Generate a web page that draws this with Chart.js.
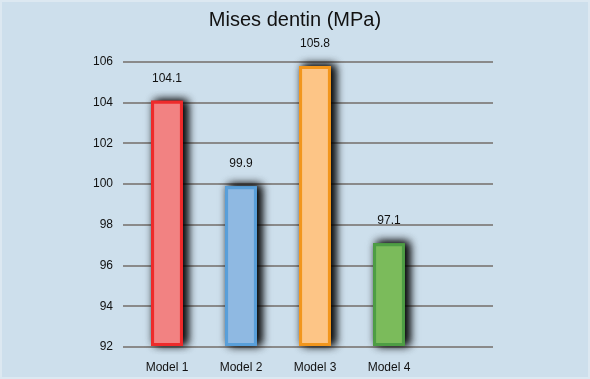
<!DOCTYPE html>
<html>
<head>
<meta charset="utf-8">
<script src="https://cdn.jsdelivr.net/npm/chart.js@4"></script>
<style>
  html, body { margin: 0; padding: 0; background: #cddfec; }
  #wrap {
    position: relative;
    width: 590px;
    height: 379px;
    background: #cddfec;
    box-shadow: inset 0 0 0 2px #dce8f1;
  }
  #chart { position: absolute; left: 0; top: 0; }
</style>
</head>
<body>
<div id="wrap"><canvas id="chart" width="590" height="379"></canvas></div>
<script>
// values
const models = ['Model 1', 'Model 2', 'Model 3', 'Model 4'];
const misesDentin = [104.1, 99.9, 105.8, 97.1];
const fillColors = ['#f28282', '#8fb9e2', '#fdc586', '#7bbb5b'];
const edgeColors = ['#ee2b2b', '#599fd9', '#f2961d', '#4e9d44'];
const yMin = 92;
const yMax = 106;
const yStep = 2;

const bgColor = '#cddfec';
const textColor = '#111111';

// the original leaves one empty slot after Model 4
const slotLabels = [...models, ''];

// cover the bit of grid that runs past the last line end, then drop shadows
const barShadow = {
    id: 'barShadow',
    beforeDatasetsDraw(chart) {
        const ctx = chart.ctx;
        const area = chart.chartArea;
        ctx.save();
        ctx.fillStyle = bgColor;
        ctx.fillRect(area.right - 7, area.top - 3, 10, area.bottom - area.top + 6);

        ctx.shadowColor = 'rgba(0, 0, 0, 0.85)';
        ctx.shadowBlur = 9;
        ctx.shadowOffsetX = 4;
        ctx.shadowOffsetY = -1;
        chart.getDatasetMeta(0).data.forEach((bar, i) => {
            const { x, y, base, width } = bar.getProps(['x', 'y', 'base', 'width'], true);
            ctx.fillStyle = edgeColors[i];
            // twice, the original shadow is quite dark
            ctx.fillRect(x - width / 2, y, width, base - y);
            ctx.fillRect(x - width / 2, y, width, base - y);
        });
        ctx.restore();
    }
};

const valueLabels = {
    id: 'valueLabels',
    afterDatasetsDraw(chart) {
        const ctx = chart.ctx;
        ctx.save();
        ctx.font = '12px "Liberation Sans", Arial, sans-serif';
        ctx.fillStyle = textColor;
        ctx.textAlign = 'center';
        ctx.textBaseline = 'middle';
        chart.getDatasetMeta(0).data.forEach((bar, i) => {
            const { x, y } = bar.getProps(['x', 'y'], true);
            ctx.fillText(misesDentin[i].toFixed(1), x, y - 22);
        });
        ctx.restore();
    }
};

const ctx = document.getElementById('chart').getContext('2d');
const chart = new Chart(ctx, {
    type: 'bar',
    data: {
        labels: slotLabels,
        datasets: [{
            data: misesDentin,
            base: yMin,
            backgroundColor: fillColors,
            borderColor: edgeColors,
            borderWidth: 3,
            borderSkipped: false,
            categoryPercentage: 1,
            barPercentage: 0.43
        }]
    },
    options: {
        responsive: false,
        animation: false,
        layout: {
            padding: { left: 90, right: 90, top: 0, bottom: 7 }
        },
        plugins: {
            legend: { display: false },
            tooltip: { enabled: false },
            title: {
                display: true,
                text: 'Mises dentin (MPa)',
                color: textColor,
                font: { family: '"Liberation Sans", Arial, sans-serif', size: 20, weight: 'normal' },
                padding: { top: 8, bottom: 30 }
            }
        },
        scales: {
            x: {
                grid: { display: false, drawTicks: false },
                border: { display: false },
                ticks: {
                    color: textColor,
                    padding: 13,
                    maxRotation: 0,
                    font: { family: '"Liberation Sans", Arial, sans-serif', size: 12 }
                },
                afterFit: s => { s.height = 25; }
            },
            y: {
                min: yMin,
                max: yMax,
                grid: {
                    color: '#8a8a8a',
                    lineWidth: 2,
                    drawTicks: true,
                    tickLength: 7,
                    tickColor: '#8a8a8a'
                },
                border: { display: false },
                ticks: {
                    stepSize: yStep,
                    color: textColor,
                    padding: 10,
                    font: { family: '"Liberation Sans", Arial, sans-serif', size: 12 }
                },
                afterFit: s => { s.width = 40; }
            }
        }
    },
    plugins: [barShadow, valueLabels]
});
</script>
</body>
</html>
